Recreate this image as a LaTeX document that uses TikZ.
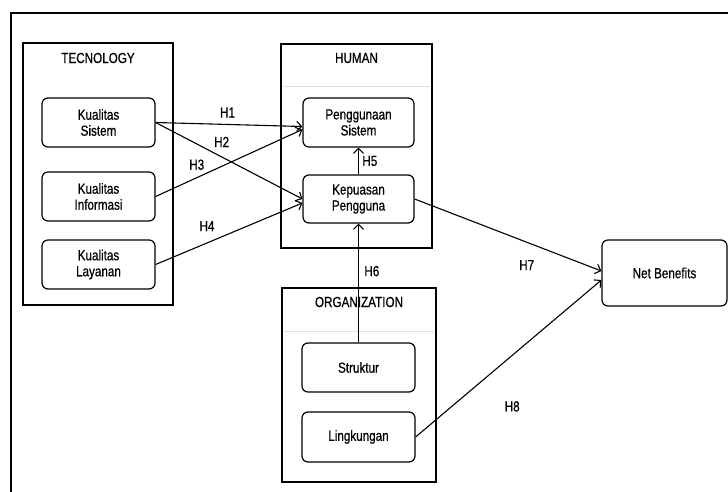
\documentclass[tikz,border=0pt]{standalone}
\usepackage{fontspec}
\setmainfont[FakeStretch=0.8,FakeBold=0.6]{Liberation Sans}
\usetikzlibrary{arrows.meta}
\begin{document}
\begin{tikzpicture}[x=1pt,y=-1pt,
		font=\fontsize{14.6}{16}\selectfont,
		group/.style={draw,line width=1.3pt,inner sep=0pt},
		var/.style={draw,rounded corners=6pt,line width=1.2pt,align=center,
			minimum width=113pt,minimum height=49pt,inner sep=0pt},
		hyp/.style={-{Straight Barb[length=5pt,width=10pt]},line width=1.1pt},
		sep/.style={gray!25,line width=1pt}]
		
		\useasboundingbox (0,0) rectangle (728,492);
		\draw[line width=1.6pt] (11,492) -- (11,13) -- (728,13);
		
		% groups
		\node[group,minimum width=150pt,minimum height=262pt] (tech) at (98,174) {};
		\node (techlabel) at (98,58) {TECNOLOGY};
		\node[group,minimum width=151pt,minimum height=204pt] (human) at (356.5,146) {};
		\node (humanlabel) at (356.5,58) {HUMAN};
		\draw[sep] (283,87) -- (430,87);
		\node[group,minimum width=154pt,minimum height=194pt] (org) at (359,385) {};
		\node (orglabel) at (359,302) {ORGANIZATION};
		\draw[sep] (284,331) -- (434,331);
		
		% variables
		\node[var] (ks) at (98.5,122.5) {Kualitas\\Sistem};
		\node[var] (ki) at (98.5,196.5) {Kualitas\\Informasi};
		\node[var] (kl) at (98.5,264.5) {Kualitas\\Layanan};
		\node[var,minimum width=111pt] (ps) at (358.5,122.5) {Penggunaan\\Sistem};
		\node[var,minimum width=111pt,minimum height=48pt] (kp) at (358.5,199) {Kepuasan\\Pengguna};
		\node[var] (st) at (358.5,367.5) {Struktur};
		\node[var,minimum height=50pt] (lk) at (358.5,437) {Lingkungan};
		\node[var,minimum width=125pt,minimum height=66pt] (nb) at (664.5,273) {Net Benefits};
		
		% hypotheses
		\draw[hyp] (ks.east) -- ([yshift=-4pt]ps.west)
			node[pos=.49,above=3pt] {H1};
		\draw[hyp] (ks.east) -- (kp.west)
			node[pos=.45,above=6pt] {H2};
		\draw[hyp] (ki.east) -- ([yshift=-7pt]ps.west)
			node[pos=.28,above=4pt] {H3};
		\draw[hyp] (kl.east) -- ([yshift=-4pt]kp.west)
			node[pos=.35,above=8pt] {H4};
		\draw[hyp] (kp.north) -- (ps.south)
			node[midway,right=0pt] {H5};
		\draw[hyp] (st.north) -- (kp.south)
			node[pos=.6,right=2pt] {H6};
		\draw[hyp] (kp.east) -- ([yshift=2pt]nb.west)
			node[pos=.6,below=14pt] {H7};
		\draw[hyp] (lk.east) -- ([yshift=-7pt]nb.west)
			node[pos=.52,below=42pt] {H8};
		
	\end{tikzpicture}
\end{document}
